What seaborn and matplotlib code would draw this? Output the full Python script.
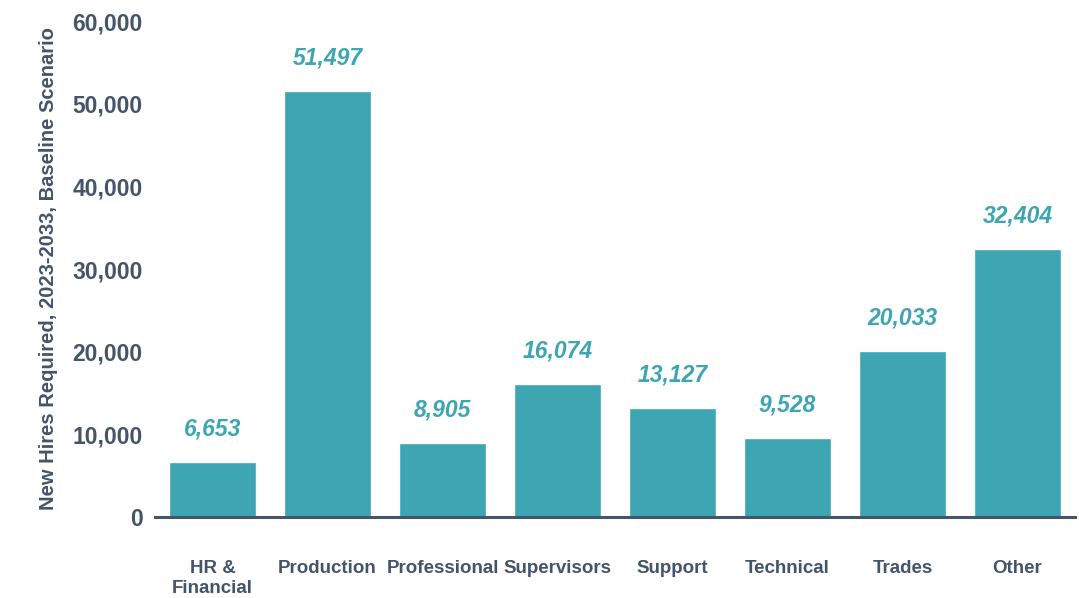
import matplotlib
matplotlib.use("Agg")
import matplotlib.pyplot as plt
import seaborn as sns
import pandas as pd

categories = ["HR &\nFinancial", "Production", "Professional", "Supervisors",
              "Support", "Technical", "Trades", "Other"]
new_hires = [6653, 51497, 8905, 16074, 13127, 9528, 20033, 32404]
y_ticks = [0, 10000, 20000, 30000, 40000, 50000, 60000]

BAR = "#3EA5B2"
INK = "#44546A"

sns.set_theme(style="white")
plt.rcParams["font.family"] = ["Liberation Sans", "DejaVu Sans"]
plt.rcParams["font.weight"] = "bold"

df = pd.DataFrame({"category": categories, "hires": new_hires})

fig = plt.figure(figsize=(10.79, 5.98), dpi=100)
ax = fig.add_axes([155 / 1079, 1 - 517 / 598, 920 / 1079, 496 / 598])

sns.barplot(data=df, x="category", y="hires", color=BAR, width=0.75,
            saturation=1, ax=ax)

for i, v in enumerate(new_hires):
    ax.annotate(f"{v:,}", xy=(i, v), xytext=(0, 24), textcoords="offset points",
                ha="center", va="center", color=BAR, fontsize=16.5,
                fontweight="bold", fontstyle="italic")

ax.set_xlim(-0.5, len(categories) - 0.5)
ax.set_ylim(0, 60000)
ax.set_yticks(y_ticks)
ax.set_yticklabels([f"{t:,}" for t in y_ticks], fontsize=16.5,
                   fontweight="bold", color=INK)
ax.tick_params(axis="y", length=0, pad=9)
ax.tick_params(axis="x", length=0, pad=31, labelsize=13.5, labelcolor=INK)
for lbl in ax.get_xticklabels():
    lbl.set_fontweight("bold")
    lbl.set_linespacing(1.2)
    lbl.set_verticalalignment("top")

ax.set_xlabel("")
ax.set_ylabel("New Hires Required, 2023-2033, Baseline Scenario",
              fontsize=14.5, fontweight="bold", color=INK, labelpad=10)

sns.despine(ax=ax, left=True)
ax.spines["bottom"].set_color(INK)
ax.spines["bottom"].set_linewidth(2.2)
ax.grid(False)

fig.savefig("out.png", dpi=100)
